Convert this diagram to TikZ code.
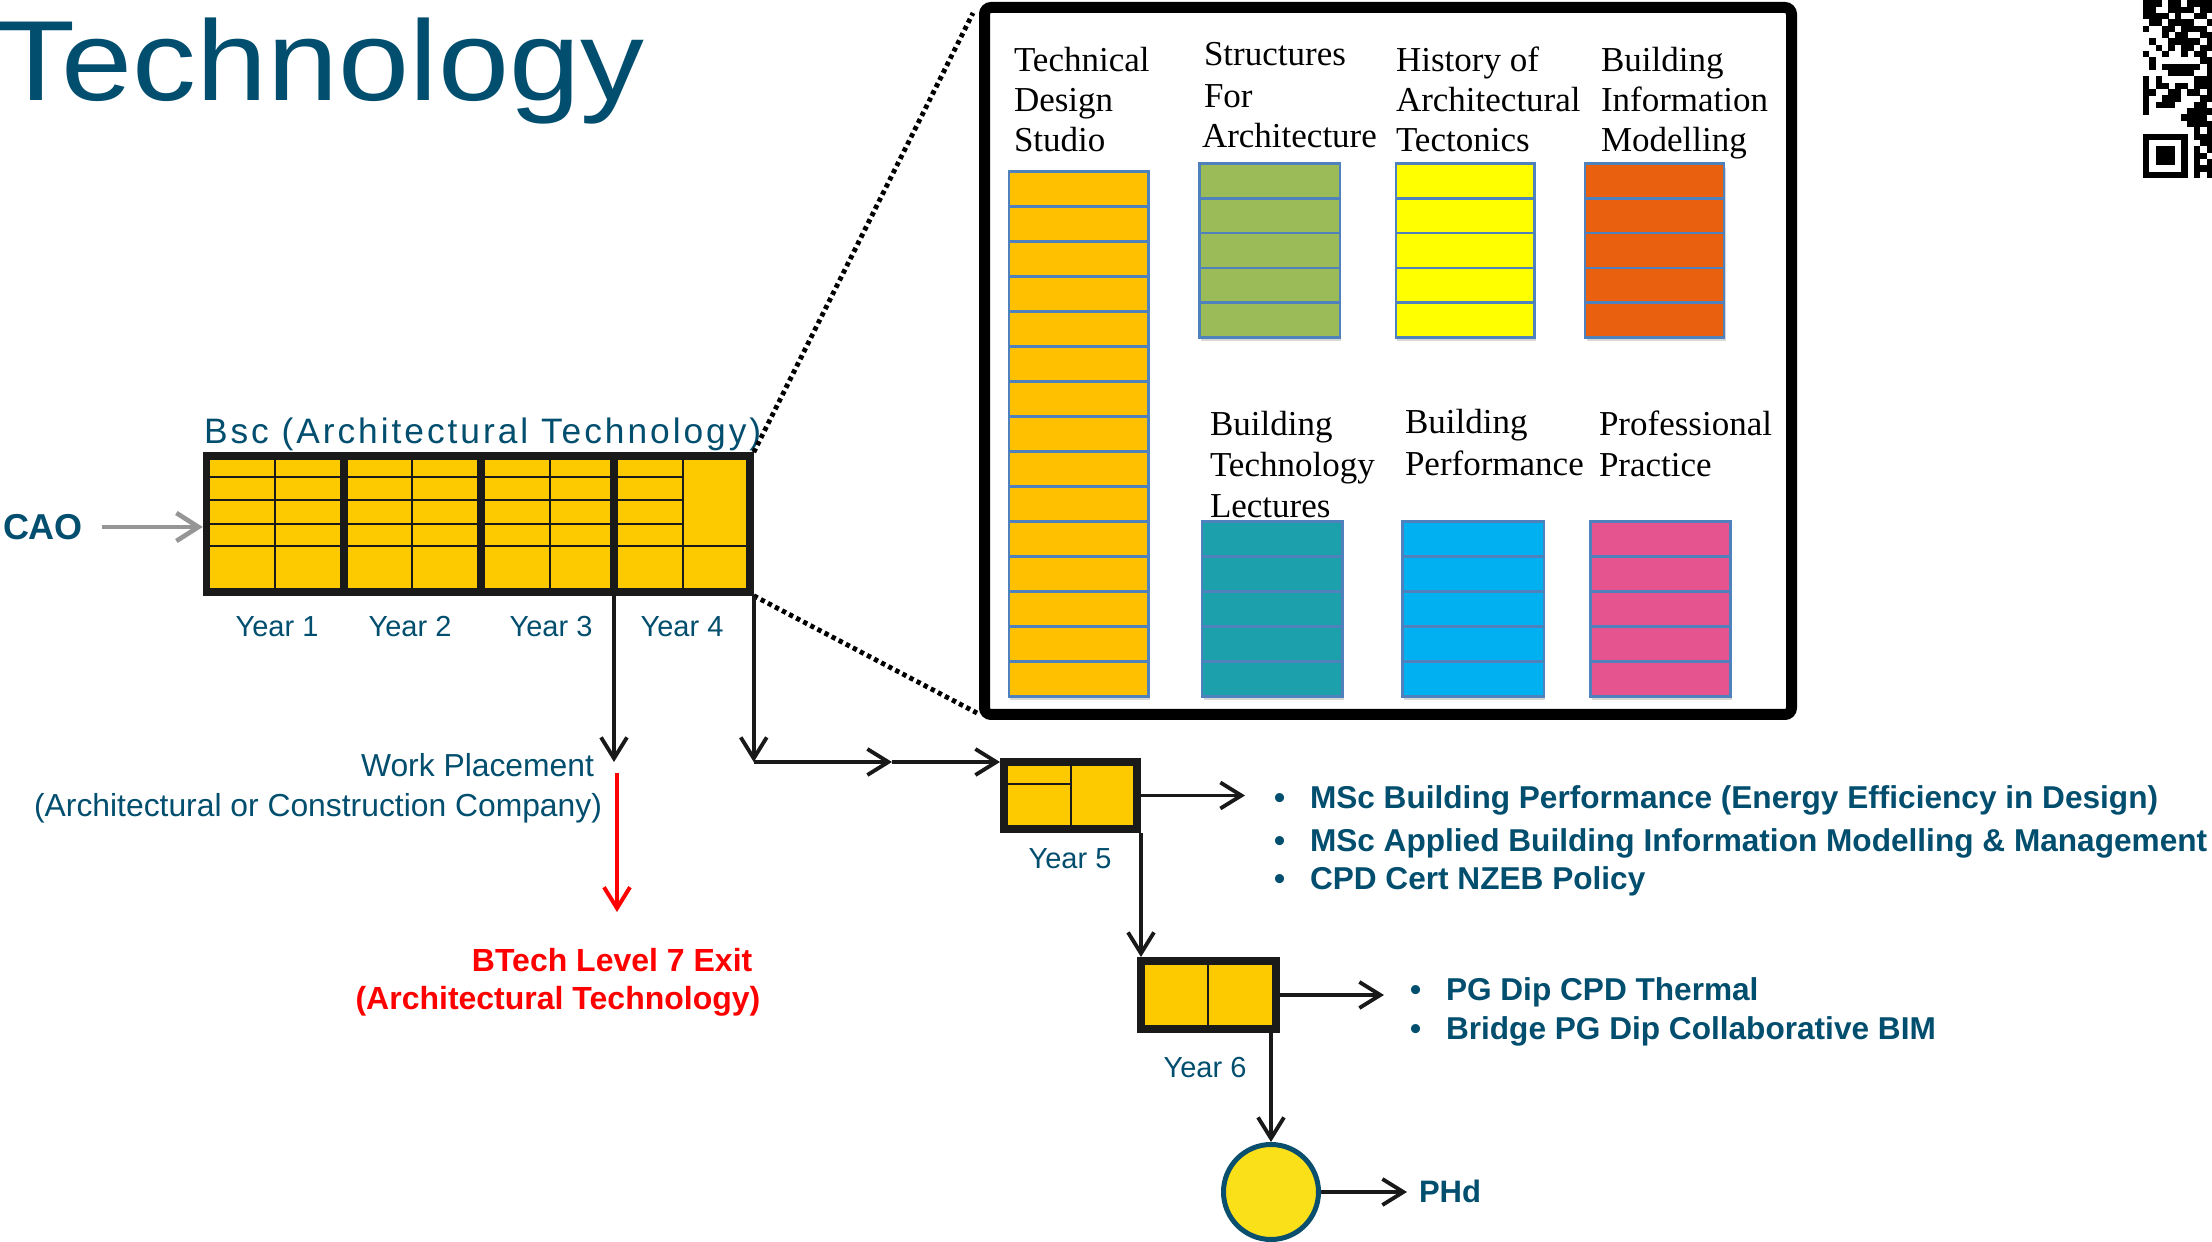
\documentclass[tikz,border=0pt]{standalone}
\usepackage{fontspec}
\usepackage{graphicx}
\setmainfont{Liberation Sans}
\newfontfamily\serifmod{Liberation Serif}
\newfontfamily\spacedsans[LetterSpace=8.4]{Liberation Sans}
\usetikzlibrary{arrows.meta,calc,shadows}
\definecolor{tblue}{RGB}{2,78,110}
\definecolor{bscyellow}{RGB}{253,202,0}
\definecolor{gridblack}{RGB}{26,26,26}
\definecolor{arrgray}{RGB}{150,150,150}
\definecolor{modblue}{RGB}{79,129,189}
\definecolor{tdsorange}{RGB}{255,192,0}
\definecolor{strgreen}{RGB}{155,187,89}
\definecolor{histyellow}{RGB}{255,255,0}
\definecolor{bimorange}{RGB}{233,97,14}
\definecolor{btlteal}{RGB}{28,160,172}
\definecolor{bpcyan}{RGB}{0,176,240}
\definecolor{pppink}{RGB}{229,84,142}
\definecolor{circyellow}{RGB}{250,224,25}
\definecolor{circblue}{RGB}{10,80,110}
\newcommand\modcolumn[7]{%
  \node[modcol, fill=#7, minimum width=#4*0.3pt, minimum height=#5*0.3pt] (#1) at (#2,#3) {};
  \pgfmathtruncatemacro\nlast{#6-1}
  \foreach \k in {1,...,\nlast}
    \draw[modline] ($(#1.north west)!\k/#6!(#1.south west)$) -- ($(#1.north east)!\k/#6!(#1.south east)$);
}
\begin{document}
\begin{tikzpicture}[x=0.3pt,y=-0.3pt,
  lbl/.style={inner sep=0pt, outer sep=0pt, text=tblue},
  bul/.style={lbl, anchor=base west, font=\fontsize{9.48pt}{11pt}\selectfont\bfseries},
  modlbl/.style={inner sep=0pt, outer sep=0pt, anchor=base west, text=black, font=\serifmod\fontsize{10.5pt}{12pt}\selectfont},
  thinl/.style={draw=gridblack, line width=0.6pt},
  thickl/.style={draw=gridblack, line width=2.4pt},
  yrbox/.style={draw=gridblack, line width=2.4pt, fill=bscyellow, inner sep=0pt},
  modcol/.style={draw=modblue, line width=0.75pt, inner sep=0pt, outer sep=0pt,
    drop shadow={opacity=0.3, shadow xshift=0.5pt, shadow yshift=-1.2pt}},
  modline/.style={draw=modblue, line width=0.75pt},
  arr/.style={draw=black!90, line width=1.15pt, -{Straight Barb[length=6.3pt,width=7.8pt]}},
  grayarr/.style={draw=arrgray, line width=1.4pt, -{Straight Barb[length=6.6pt,width=8.4pt]}},
  redarr/.style={draw=red, line width=1.2pt, -{Straight Barb[length=6.3pt,width=7.8pt]}},
  dotl/.style={draw=black, line width=1.45pt, dash pattern=on 1.3pt off 1.1pt}]
\useasboundingbox (0,0) rectangle (2212,1242);
\fill[white] (0,0) rectangle (2212,1242);

% title
\node[lbl, anchor=base west] (title) at (-2,101) {\fontsize{34.2pt}{40pt}\selectfont\scalebox{1.12}[1]{Technology}};

% QR code fragment
\begin{scope}[shift={(2143,0.2)}]
\foreach \row [count=\i from 0] in {
{1,1,1,0,1,1,0,1,1,1,1},{1,1,0,0,1,1,1,1,0,1,1},{1,1,1,1,0,1,0,0,1,1,0},{0,1,1,0,1,1,1,1,0,0,1},
{1,0,0,1,1,0,1,1,1,1,0},{0,0,0,1,0,1,1,0,0,1,1},{0,1,0,0,1,1,1,1,1,0,1},{0,0,1,0,1,0,1,1,0,1,1},
{1,0,0,1,0,0,1,0,1,1,0},{0,1,0,0,0,0,0,0,0,1,1},{0,1,0,1,1,1,1,1,1,0,1},{0,0,0,0,1,1,1,1,0,0,1},
{1,0,1,0,0,0,0,0,1,1,1},{1,0,1,1,0,1,1,0,1,1,1},{1,1,0,0,1,1,0,1,1,0,1},{1,0,0,1,1,1,0,0,0,1,1},
{1,0,1,1,1,0,0,0,1,1,0},{1,0,0,0,0,0,0,1,1,1,1},{0,0,0,0,0,0,1,1,1,1,0},{0,0,0,0,0,0,0,1,1,1,1},
{0,0,0,0,0,0,0,0,1,0,1},
{1,1,1,1,1,1,1,0,1,1,1},{1,0,0,0,0,0,1,0,0,1,1},{1,0,1,1,1,0,1,0,1,0,1},{1,0,1,1,1,0,1,0,1,1,0},
{1,0,1,1,1,0,1,0,1,0,1},{1,0,0,0,0,0,1,0,1,1,1},{1,1,1,1,1,1,1,0,1,0,1}} {
  \foreach \v [count=\j from 0] in \row {
    \ifnum\v=1 \fill[black] (\j*6.35,\i*6.35) rectangle ++(6.45,6.45); \fi
  }
}
\end{scope}

% BSc grid
\node[yrbox, line width=2.25pt, minimum width=543.5*0.3pt, minimum height=136*0.3pt] (bsc) at (478.25,524) {};
\foreach \x in {275,412,550,682.5} \draw[thinl] (\x,456) -- (\x,592);
\foreach \y in {477,500,524} \draw[thinl] (206.5,\y) -- (682.5,\y);
\draw[thinl] (206.5,546) -- (750,546);
\foreach \x in {344,481,614} \draw[thickl] (\x,456) -- (\x,592);
\node[lbl, anchor=base west] (bsclbl) at (204,444) {\spacedsans\fontsize{10.6pt}{12pt}\selectfont Bsc (Architectural Technology)};
\node[lbl, anchor=base] (yr1) at (277,636) {\fontsize{8.7pt}{10pt}\selectfont Year 1};
\node[lbl, anchor=base] (yr2) at (410,636) {\fontsize{8.7pt}{10pt}\selectfont Year 2};
\node[lbl, anchor=base] (yr3) at (551,636) {\fontsize{8.7pt}{10pt}\selectfont Year 3};
\node[lbl, anchor=base] (yr4) at (682,636) {\fontsize{8.7pt}{10pt}\selectfont Year 4};

% CAO
\node[lbl, anchor=base west] (cao) at (3,540) {\fontsize{10.8pt}{13pt}\selectfont\bfseries CAO};

% work placement / exit
\node[lbl, anchor=base east] (wp1) at (594,777) {\fontsize{9.55pt}{11pt}\selectfont Work Placement};
\node[lbl, anchor=base east] (wp2) at (602,816) {\fontsize{9.55pt}{11pt}\selectfont (Architectural or Construction Company)};
\node[inner sep=0pt, anchor=base east, text=red] (bt1) at (753,971) {\fontsize{9.6pt}{11pt}\selectfont\bfseries BTech Level 7 Exit};
\node[inner sep=0pt, anchor=base east, text=red] (bt2) at (761,1009) {\fontsize{9.6pt}{11pt}\selectfont\bfseries (Architectural Technology)};

% Year 5 / Year 6 boxes
\node[yrbox, minimum width=133*0.3pt, minimum height=67*0.3pt] (y5) at (1070.5,795.5) {};
\draw[thinl] (1071,762) -- (1071,829);
\draw[thinl] (1004,784) -- (1071,784);
\node[lbl, anchor=base] (y5lbl) at (1070,868) {\fontsize{8.7pt}{10pt}\selectfont Year 5};
\node[yrbox, minimum width=135*0.3pt, minimum height=68*0.3pt] (y6) at (1208.5,995) {};
\draw[thinl] (1208,961) -- (1208,1029);
\node[lbl, anchor=base] (y6lbl) at (1205,1077) {\fontsize{8.7pt}{10pt}\selectfont Year 6};
\node[circle, draw=circblue, line width=1.5pt, fill=circyellow, minimum size=95*0.3pt, inner sep=0pt] (phd) at (1271,1192) {};
\node[lbl, anchor=base west] (phdtxt) at (1419,1202) {\fontsize{9.3pt}{11pt}\selectfont\bfseries PHd};

% bullets
\node[bul] (bu1) at (1274,808) {•};
\node[bul] (m1) at (1310,808) {MSc Building Performance (Energy Efficiency in Design)};
\node[bul] (bu2) at (1274,851) {•};
\node[bul] (m2) at (1310,851) {MSc Applied Building Information Modelling \& Management};
\node[bul] (bu3) at (1274,889) {•};
\node[bul] (m3) at (1310,889) {CPD Cert NZEB Policy};
\node[bul] (bu4) at (1410,1000) {•};
\node[bul] (p1) at (1446,1000) {PG Dip CPD Thermal};
\node[bul] (bu5) at (1410,1039) {•};
\node[bul] (p2) at (1446,1039) {Bridge PG Dip Collaborative BIM};

% inset with modules
\node[draw=black, line width=3.3pt, fill=white, rounded corners=2pt, minimum width=807*0.3pt, minimum height=707*0.3pt, inner sep=0pt] (inset) at (1388,361) {};
\modcolumn{tds}{1078.6}{433.9}{139.6}{525}{15}{tdsorange}
\modcolumn{sfa}{1269.75}{250.55}{140.1}{173.9}{5}{strgreen}
\modcolumn{hat}{1465.1}{250.55}{138.6}{173.9}{5}{histyellow}
\modcolumn{bim}{1654.6}{250.55}{139.2}{173.9}{5}{bimorange}
\modcolumn{btl}{1272.25}{608.9}{140.5}{175}{5}{btlteal}
\modcolumn{bpf}{1473.2}{608.9}{141.2}{175}{5}{bpcyan}
\modcolumn{ppr}{1660.45}{608.9}{140.1}{175}{5}{pppink}
\foreach \nm/\xx/\yy/\t in {tdsA/1014/72/Technical, tdsB/1014/112/Design, tdsC/1014/152/Studio,
  sfaA/1204/66/Structures, sfaB/1204/108/For, sfaC/1202/148/Architecture,
  hatA/1396/72/History of, hatB/1396/112/Architectural, hatC/1396/152/Tectonics,
  bimA/1601/72/Building, bimB/1601/112/Information, bimC/1601/152/Modelling,
  btlA/1210/436/Building, btlB/1210/477/Technology, btlC/1210/518/Lectures,
  bpfA/1405/434/Building, bpfB/1405/476/Performance,
  pprA/1599/436/Professional, pprB/1599/477/Practice}
  \node[modlbl] (\nm) at (\xx,\yy) {\t};

% connectors
\coordinate (caoS) at (102,527);
\draw[grayarr] (caoS) -- (caoS -| bsc.west);
\coordinate (dtA) at ($(inset.north west)+(-6,11)$);
\coordinate (dtB) at ($(inset.south west)+(-2,-7)$);
\draw[dotl] (bsc.north east) -- (dtA);
\draw[dotl] (bsc.south east) -- (dtB);
\coordinate (y4top) at (614,592);
\coordinate (wpTip) at (614,762);
\draw[arr] (y4top) -- (wpTip);
\coordinate (corner) at (bsc.south east |- wpTip);
\draw[arr] (bsc.south east) -- (corner);
\coordinate (midT) at (892,762);
\draw[arr] (corner) -- (midT);
\draw[arr] (midT) -- (midT -| y5.west);
\coordinate (redS) at (617,773);
\coordinate (redT) at (617,912);
\draw[redarr] (redS) -- (redT);
\coordinate (b1tip) at (1245,795.5);
\draw[arr] (y5.east) -- (b1tip);
\draw[arr] (y5.south east) -- (y5.south east |- y6.north);
\coordinate (b2tip) at (1384,995);
\draw[arr] (y6.east) -- (b2tip);
\draw[arr] (phd.north |- y6.south) -- (phd.north);
\coordinate (phdTip) at (1407,1192);
\draw[arr] (phd.east) -- (phdTip);
\end{tikzpicture}
\end{document}
